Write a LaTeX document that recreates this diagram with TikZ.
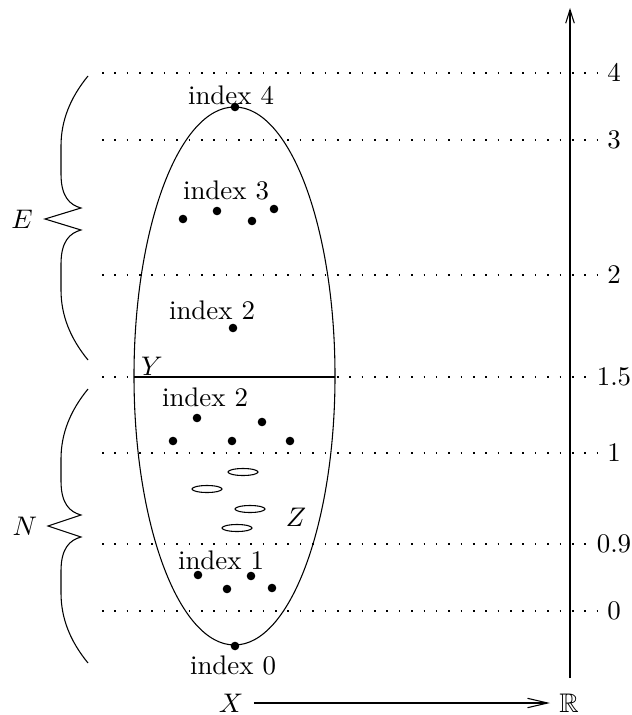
\documentclass[tikz,border=0pt]{standalone}
\usepackage{amsmath,amssymb}
\usepackage{tikz}
\usetikzlibrary{arrows.meta}

\tikzset{
  levelline/.style={dash pattern=on 0.6pt off 4pt, line width=0.5pt},
  ptdot/.style={circle, fill=black, inner sep=0pt, minimum size=3.2pt},
  lvl/.style={inner sep=1pt},
  txt/.style={inner sep=0.75pt},
}
% curly brace on the left: top y, middle y, bottom y, tip x
\newcommand{\curlybrace}[4]{%
  \draw (88,#1) .. controls (70,{#1+22}) and (61,{#1+45}) .. (61,{#1+70}) -- (61,{#2-45})
     .. controls (61,{#2-22}) and (70,{#2-14}) .. (81,{#2-11}) -- (#4,#2) -- (81,{#2+11})
     .. controls (70,{#2+14}) and (61,{#2+22}) .. (61,{#2+45}) -- (61,{#3-70})
     .. controls (61,{#3-45}) and (70,{#3-22}) .. (88,#3);
}

\begin{document}
\begin{tikzpicture}[x=0.372pt,y=0.372pt,yscale=-1,xscale=1]
  \useasboundingbox (0,0) rectangle (632,715);

  % levels on the real line
  \foreach \yy/\val/\nm in {73/4/four,140/3/three,275/2/two,377/1.5/onehalf,453/1/one,544/0.9/ninetenths,611/0/zero}{
    \node[lvl] (\nm) at (614,\yy) {$\val$};
    \coordinate (\nm-start) at (102,\yy);
    \draw[levelline] (\nm-start) -- (\nm.west);
  }

  %Axis
  \coordinate (axisbot) at (570,678);
  \coordinate (axistop) at (570,8);
  \draw[-{Straight Barb[length=5pt,width=3.2pt]}] (axisbot) -- (axistop);

  %Shape: Ellipse
  \draw (234.5,376) ellipse (100.5 and 269);
  %Straight Lines: Y cut
  \coordinate (cutL) at (134,377);
  \coordinate (cutR) at (335,377);
  \draw (cutL) -- (cutR);
  \node[txt] (ylab) at (152,366) {$Y$};

  % Braces
  \curlybrace{76}{219}{360}{45}
  \curlybrace{389}{526}{663}{48}
  \node[txt] (elab) at (22,219) {$E$};
  \node[txt] (nlab) at (25,526) {$N$};

  % index 4
  \node[txt] (idxfour) at (231,95) {index 4};
  \node[ptdot] (p4) at (235,107) {};
  % index 3
  \node[txt] (idxthree) at (226,190) {index 3};
  \node[ptdot] (p3a) at (183,219) {};
  \node[ptdot] (p3b) at (217,211) {};
  \node[ptdot] (p3c) at (252,221) {};
  \node[ptdot] (p3d) at (274,209) {};
  % index 2 (upper)
  \node[txt] (idxtwoE) at (212,310) {index 2};
  \node[ptdot] (p2e) at (233,328) {};
  % index 2 (lower)
  \node[txt] (idxtwoN) at (205,397) {index 2};
  \node[ptdot] (p2a) at (197,418) {};
  \node[ptdot] (p2b) at (262,422) {};
  \node[ptdot] (p2c) at (173,441) {};
  \node[ptdot] (p2d) at (232,441) {};
  \node[ptdot] (p2f) at (290,441) {};
  % Z region
  \draw (243,472) ellipse (15 and 3.5);
  \draw (207,489) ellipse (15 and 3.5);
  \draw (250,509) ellipse (15 and 3.5);
  \draw (237,528) ellipse (15 and 3.5);
  \node[txt] (zlab) at (296,517) {$Z$};
  % index 1
  \node[txt] (idxone) at (221,560) {index 1};
  \node[ptdot] (p1a) at (198,575) {};
  \node[ptdot] (p1b) at (251,576) {};
  \node[ptdot] (p1c) at (227,589) {};
  \node[ptdot] (p1d) at (272,588) {};
  % index 0
  \node[ptdot] (p0) at (235,646) {};
  \node[txt] (idxzero) at (233,665) {index 0};

  % map X -> R
  \node[txt] (xlab) at (231,703) {$X$};
  \node[txt] (rlab) at (569,703) {$\mathbb{R}$};
  \draw[-{Straight Barb[length=7.5pt,width=3.5pt]}] ([xshift=3pt]xlab.east) -- ([xshift=-2.5pt]rlab.west);
\end{tikzpicture}
\end{document}
